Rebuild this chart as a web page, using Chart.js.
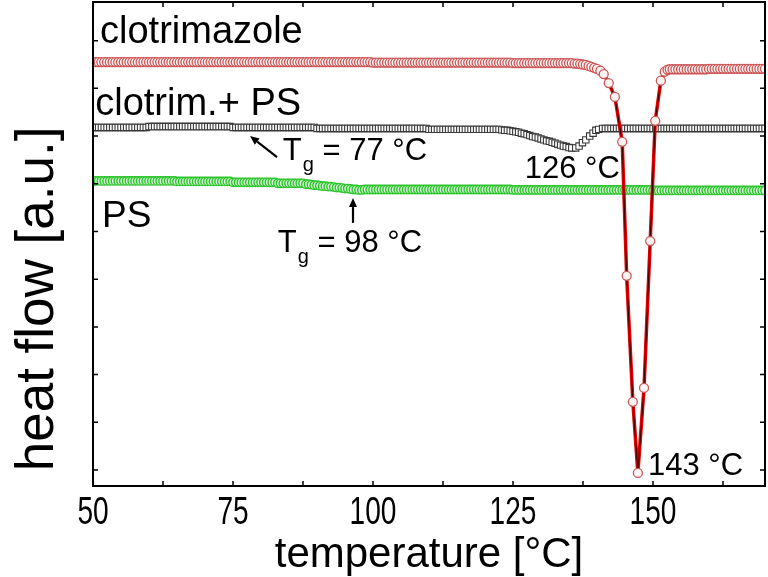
<!DOCTYPE html>
<html>
<head>
<meta charset="utf-8">
<script src="https://cdn.jsdelivr.net/npm/chart.js@4.4.0/dist/chart.umd.min.js"></script>
<style>
html,body{margin:0;padding:0;background:#fff;overflow:hidden}
#wrap{width:768px;height:577px}
</style>
</head>
<body>
<div id="wrap"><canvas id="dsc"></canvas></div>
<script>
// ── DSC curves: clotrimazole, clotrim.+PS, PS ──
// heat flow in a.u. (offset curves), temperature in °C

// shared temperature grid (PS curve)
const tempGrid=[
  50,50.5,51,51.5,52,52.5,53,53.5,54,54.5,55,55.5,56,56.5,57,57.5,58,58.5,59,59.5,
  60,60.5,61,61.5,62,62.5,63,63.5,64,64.5,65,65.5,66,66.5,67,67.5,68,68.5,69,69.5,
  70,70.5,71,71.5,72,72.5,73,73.5,74,74.5,75,75.5,76,76.5,77,77.5,78,78.5,79,79.5,
  80,80.5,81,81.5,82,82.5,83,83.5,84,84.5,85,85.5,86,86.5,87,87.5,88,88.5,89,89.5,
  90,90.5,91,91.5,92,92.5,93,93.5,94,94.5,95,95.5,96,96.5,97,97.5,98,98.5,99,99.5,
  100,100.5,101,101.5,102,102.5,103,103.5,104,104.5,105,105.5,106,106.5,107,107.5,108,108.5,109,109.5,
  110,110.5,111,111.5,112,112.5,113,113.5,114,114.5,115,115.5,116,116.5,117,117.5,118,118.5,119,119.5,
  120,120.5,121,121.5,122,122.5,123,123.5,124,124.5,125,125.5,126,126.5,127,127.5,128,128.5,129,129.5,
  130,130.5,131,131.5,132,132.5,133,133.5,134,134.5,135,135.5,136,136.5,137,137.5,138,138.5,139,139.5,
  140,140.5,141,141.5,142,142.5,143,143.5,144,144.5,145,145.5,146,146.5,147,147.5,148,148.5,149,149.5,
  150,150.5,151,151.5,152,152.5,153,153.5,154,154.5,155,155.5,156,156.5,157,157.5,158,158.5,159,159.5,
  160,160.5,161,161.5,162,162.5,163,163.5,164,164.5,165,165.5,166,166.5,167,167.5,168,168.5,169,169.5,
  170
];
const psHF=[
  6.06,6.06,6.06,6.06,6.06,6.06,6.06,6.06,6.06,6.06,6.06,6.06,6.06,6.06,6.06,6.06,6.06,6.06,6.06,6.06,
  6.06,6.06,6.06,6.06,6.06,6.06,6.06,6.06,6.06,6.06,6.05,6.05,6.05,6.05,6.05,6.05,6.05,6.05,6.05,6.05,
  6.05,6.05,6.05,6.05,6.05,6.05,6.05,6.05,6.05,6.05,6.03,6.03,6.03,6.03,6.03,6.03,6.03,6.03,6.03,6.03,
  6.03,6.03,6.03,6.03,6.03,6.03,6.01,6.01,6.01,6.01,6.01,6.01,6.01,6.01,6.01,6.01,5.99,5.99,5.98,5.97,
  5.97,5.96,5.95,5.95,5.94,5.94,5.93,5.92,5.92,5.91,5.90,5.90,5.89,5.88,5.88,5.87,5.87,5.88,5.88,5.88,
  5.88,5.88,5.88,5.88,5.88,5.88,5.88,5.88,5.88,5.88,5.88,5.88,5.88,5.88,5.88,5.88,5.88,5.88,5.88,5.88,
  5.88,5.88,5.88,5.88,5.88,5.88,5.88,5.88,5.88,5.88,5.88,5.88,5.88,5.88,5.88,5.88,5.88,5.88,5.88,5.88,
  5.88,5.88,5.88,5.88,5.88,5.88,5.88,5.88,5.88,5.88,5.87,5.87,5.87,5.87,5.87,5.87,5.87,5.87,5.87,5.87,
  5.87,5.87,5.87,5.87,5.87,5.87,5.87,5.87,5.87,5.87,5.87,5.87,5.87,5.87,5.87,5.87,5.87,5.87,5.87,5.87,
  5.87,5.87,5.87,5.87,5.87,5.87,5.87,5.87,5.87,5.87,5.87,5.87,5.87,5.87,5.87,5.87,5.87,5.87,5.87,5.87,
  5.86,5.86,5.86,5.86,5.86,5.86,5.86,5.86,5.86,5.86,5.86,5.86,5.86,5.86,5.86,5.86,5.86,5.86,5.86,5.86,
  5.86,5.86,5.86,5.86,5.86,5.86,5.86,5.86,5.86,5.86,5.86,5.86,5.86,5.86,5.86,5.86,5.86,5.86,5.86,5.86,
  5.86
];

// clotrimazole: dense baseline, sparse points through the melting dip
const clotT=[
  50,50.5,51,51.5,52,52.5,53,53.5,54,54.5,55,55.5,56,56.5,57,57.5,58,58.5,59,59.5,
  60,60.5,61,61.5,62,62.5,63,63.5,64,64.5,65,65.5,66,66.5,67,67.5,68,68.5,69,69.5,
  70,70.5,71,71.5,72,72.5,73,73.5,74,74.5,75,75.5,76,76.5,77,77.5,78,78.5,79,79.5,
  80,80.5,81,81.5,82,82.5,83,83.5,84,84.5,85,85.5,86,86.5,87,87.5,88,88.5,89,89.5,
  90,90.5,91,91.5,92,92.5,93,93.5,94,94.5,95,95.5,96,96.5,97,97.5,98,98.5,99,99.5,
  100,100.5,101,101.5,102,102.5,103,103.5,104,104.5,105,105.5,106,106.5,107,107.5,108,108.5,109,109.5,
  110,110.5,111,111.5,112,112.5,113,113.5,114,114.5,115,115.5,116,116.5,117,117.5,118,118.5,119,119.5,
  120,120.5,121,121.5,122,122.5,123,123.5,124,124.5,125,125.5,126,126.5,127,127.5,128,128.5,129,129.5,
  130,130.5,131,131.5,132,132.5,133,133.5,134,134.5,135,135.5,136,136.5,137,137.5,
  138,138.5,139,139.5,140,140.6,141.2,142.1,143.2,144.5,145.3,146.4,147.3,148.4,149.5,150.4,151.4,152.1,
  152.6,153,153.5,154,154.5,155,155.5,156,156.5,157,157.5,158,158.5,159,159.5,
  160,160.5,161,161.5,162,162.5,163,163.5,164,164.5,165,165.5,166,166.5,167,167.5,168,168.5,169,169.5,170
];
const clotHF=[
  8.55,8.55,8.55,8.55,8.55,8.55,8.55,8.55,8.55,8.55,8.55,8.55,8.55,8.55,8.55,8.55,8.55,8.55,8.55,8.55,
  8.55,8.55,8.55,8.55,8.55,8.55,8.55,8.55,8.55,8.55,8.55,8.55,8.55,8.55,8.55,8.55,8.55,8.55,8.55,8.55,
  8.55,8.55,8.55,8.55,8.55,8.55,8.55,8.55,8.55,8.55,8.55,8.55,8.55,8.55,8.55,8.55,8.55,8.55,8.55,8.55,
  8.55,8.55,8.55,8.55,8.55,8.55,8.55,8.55,8.55,8.55,8.55,8.55,8.55,8.55,8.55,8.55,8.55,8.55,8.55,8.55,
  8.55,8.55,8.55,8.55,8.55,8.55,8.55,8.55,8.55,8.55,8.55,8.55,8.55,8.55,8.55,8.55,8.55,8.55,8.55,8.55,
  8.54,8.54,8.54,8.54,8.54,8.54,8.54,8.54,8.54,8.54,8.54,8.54,8.54,8.54,8.54,8.54,8.54,8.54,8.54,8.54,
  8.54,8.54,8.54,8.54,8.54,8.54,8.54,8.54,8.54,8.54,8.54,8.54,8.54,8.54,8.54,8.54,8.54,8.54,8.54,8.54,
  8.54,8.54,8.54,8.54,8.54,8.54,8.54,8.54,8.54,8.54,8.53,8.53,8.53,8.53,8.53,8.53,8.53,8.53,8.53,8.53,
  8.53,8.53,8.53,8.53,8.53,8.53,8.53,8.53,8.53,8.53,8.53,8.53,8.52,8.52,8.51,8.50,
  8.49,8.47,8.45,8.43,8.41,8.37,8.30,8.11,7.82,6.88,4.07,1.43,-0.06,1.72,4.80,7.32,8.16,8.35,
  8.39,8.40,8.40,8.40,8.40,8.40,8.40,8.40,8.40,8.40,8.40,8.40,8.40,8.40,8.40,
  8.41,8.41,8.41,8.41,8.41,8.41,8.41,8.41,8.41,8.41,8.41,8.41,8.41,8.41,8.41,8.41,8.41,8.41,8.41,8.41,8.41
];

// clotrimazole + PS
const mixT=[
  50,50.5,51,51.5,52,52.5,53,53.5,54,54.5,55,55.5,56,56.5,57,57.5,58,58.5,59,59.5,
  60,60.5,61,61.5,62,62.5,63,63.5,64,64.5,65,65.5,66,66.5,67,67.5,68,68.5,69,69.5,
  70,70.5,71,71.5,72,72.5,73,73.5,74,74.5,75,75.5,76,76.5,77,77.5,78,78.5,79,79.5,
  80,80.5,81,81.5,82,82.5,83,83.5,84,84.5,85,85.5,86,86.5,87,87.5,88,88.5,89,89.5,
  90,90.5,91,91.5,92,92.5,93,93.5,94,94.5,95,95.5,96,96.5,97,97.5,98,98.5,99,99.5,
  100,100.5,101,101.5,102,102.5,103,103.5,104,104.5,105,105.5,106,106.5,107,107.5,108,108.5,109,109.5,
  110,110.5,111,111.5,112,112.5,113,113.5,114,114.5,115,115.5,116,116.5,117,117.5,118,118.5,119,119.5,
  120,120.5,121,121.5,122,122.5,
  123,123.5,124,124.5,125,125.5,126,126.5,127,127.5,128,128.5,129,129.5,130,130.5,131,131.5,132,132.5,
  133,133.5,134,134.5,135,135.5,
  136.2,136.8,137.4,138,138.7,139.3,139.8,140.3,
  141,141.5,142,142.5,143,143.5,144,144.5,145,145.5,146,146.5,147,147.5,148,148.5,149,149.5,
  150,150.5,151,151.5,152,152.5,153,153.5,154,154.5,155,155.5,156,156.5,157,157.5,158,158.5,159,159.5,
  160,160.5,161,161.5,162,162.5,163,163.5,164,164.5,165,165.5,166,166.5,167,167.5,168,168.5,169,169.5,170
];
const mixHF=[
  7.18,7.18,7.18,7.18,7.18,7.18,7.18,7.18,7.18,7.18,7.18,7.18,7.18,7.18,7.18,7.18,7.18,7.18,7.18,7.18,
  7.20,7.20,7.20,7.20,7.20,7.20,7.20,7.20,7.20,7.20,7.20,7.20,7.20,7.20,7.20,7.20,7.20,7.20,7.20,7.20,
  7.20,7.20,7.20,7.20,7.20,7.20,7.20,7.20,7.20,7.20,7.18,7.18,7.18,7.18,7.18,7.18,7.18,7.18,7.18,7.18,
  7.18,7.18,7.18,7.18,7.18,7.18,7.18,7.18,7.18,7.18,7.18,7.18,7.18,7.18,7.18,7.18,7.18,7.18,7.18,7.18,
  7.16,7.16,7.16,7.16,7.16,7.16,7.16,7.16,7.16,7.16,7.16,7.16,7.16,7.16,7.16,7.16,7.16,7.16,7.16,7.16,
  7.16,7.16,7.16,7.16,7.16,7.16,7.16,7.16,7.16,7.16,7.16,7.16,7.16,7.16,7.16,7.16,7.16,7.16,7.16,7.16,
  7.14,7.14,7.14,7.14,7.14,7.14,7.14,7.14,7.14,7.14,7.14,7.14,7.14,7.14,7.14,7.14,7.14,7.14,7.14,7.14,
  7.14,7.14,7.14,7.14,7.14,7.14,
  7.13,7.12,7.12,7.11,7.10,7.09,7.08,7.06,7.05,7.03,7.01,6.99,6.98,6.96,6.94,6.92,6.90,6.89,6.87,6.85,
  6.83,6.81,6.79,6.78,6.76,6.75,
  6.75,6.79,6.86,6.92,7.00,7.06,7.12,7.14,
  7.16,7.16,7.16,7.16,7.16,7.16,7.16,7.16,7.16,7.16,7.16,7.16,7.16,7.16,7.16,7.16,7.16,7.16,
  7.16,7.16,7.16,7.16,7.16,7.16,7.16,7.16,7.16,7.16,7.16,7.16,7.16,7.16,7.16,7.16,7.16,7.16,7.16,7.16,
  7.16,7.16,7.16,7.16,7.16,7.16,7.16,7.16,7.16,7.16,7.16,7.16,7.16,7.16,7.16,7.16,7.16,7.16,7.16,7.16,7.16
];

// axis
const xMin=50, xMax=170, xStep=12.5;
const xLabelVals=[50,75,100,125,150];
const yMin=-0.335, yMax=9.81;
const yTickVals=[0,1,2,3,4,5,6,7,8,9];

const FONT='"Liberation Sans", Arial, Helvetica, sans-serif';

const zip=(t,v)=>t.map((x,i)=>({x,y:v[i]}));

// ── Frame, inward ticks, condensed x tick labels ──
const frameTicks={
  id:'frameTicks',
  afterDatasetsDraw(chart){
    const {ctx,chartArea:a,scales:{x,y}}=chart;
    ctx.save();
    ctx.strokeStyle='#000';
    ctx.lineWidth=2;
    ctx.strokeRect(a.left,a.top,a.right-a.left,a.bottom-a.top);
    ctx.lineWidth=1.5;
    ctx.beginPath();
    x.ticks.forEach(t=>{
      if(t.value<=xMin||t.value>=xMax)return;
      const px=x.getPixelForValue(t.value);
      ctx.moveTo(px,a.bottom);ctx.lineTo(px,a.bottom-5);
      ctx.moveTo(px,a.top);ctx.lineTo(px,a.top+5);
    });
    y.ticks.forEach(t=>{
      const py=y.getPixelForValue(t.value);
      ctx.moveTo(a.left,py);ctx.lineTo(a.left+5,py);
      ctx.moveTo(a.right,py);ctx.lineTo(a.right-5,py);
    });
    ctx.stroke();
    // tick labels are condensed in the original
    ctx.fillStyle='#000';
    ctx.font='39px '+FONT;
    ctx.textAlign='center';
    ctx.textBaseline='alphabetic';
    xLabelVals.forEach(v=>{
      ctx.save();
      ctx.translate(x.getPixelForValue(v),a.bottom+38);
      ctx.scale(0.72,1);
      ctx.fillText(String(v),0,0);
      ctx.restore();
    });
    ctx.restore();
  }
};

// ── Curve names, peak temps, Tg notes ──
const labels=[
  {text:'clotrimazole',t:51.25,v:8.95,size:38},
  {text:'clotrim.+ PS',t:50.4,v:7.44,size:38},
  {text:'PS',t:51.6,v:5.09,size:37},
  {text:'126 °C',t:127.1,v:6.12,size:31},
  {text:'143 °C',t:149.1,v:-0.10,size:31}
];
const tgNotes=[
  {rest:' = 77 °C',t:83.9,v:6.50},
  {rest:' = 98 °C',t:83.0,v:4.57}
];
const arrows=[
  {from:[82.86,6.56],to:[78.05,7.00]},
  {from:[96.43,5.18],to:[96.43,5.70]}
];

const notes={
  id:'notes',
  afterDraw(chart){
    const {ctx,scales:{x,y}}=chart;
    ctx.save();
    ctx.fillStyle='#000';
    ctx.textBaseline='alphabetic';
    labels.forEach(l=>{
      ctx.font=l.size+'px '+FONT;
      ctx.fillText(l.text,x.getPixelForValue(l.t),y.getPixelForValue(l.v));
    });
    tgNotes.forEach(n=>{
      let px=x.getPixelForValue(n.t);
      const py=y.getPixelForValue(n.v);
      ctx.font='31px '+FONT;
      ctx.fillText('T',px,py);
      px+=ctx.measureText('T').width+1;
      ctx.font='20px '+FONT;
      ctx.fillText('g',px,py+11);
      px+=ctx.measureText('g').width;
      ctx.font='31px '+FONT;
      ctx.fillText(n.rest,px,py);
    });
    ctx.strokeStyle='#000';
    ctx.lineWidth=2.2;
    arrows.forEach(a=>{
      const x0=x.getPixelForValue(a.from[0]),y0=y.getPixelForValue(a.from[1]);
      const x1=x.getPixelForValue(a.to[0]),y1=y.getPixelForValue(a.to[1]);
      const ang=Math.atan2(y1-y0,x1-x0);
      const hl=9,hw=4;
      const bx=x1-hl*Math.cos(ang),by=y1-hl*Math.sin(ang);
      ctx.beginPath();ctx.moveTo(x0,y0);ctx.lineTo(bx,by);ctx.stroke();
      ctx.beginPath();
      ctx.moveTo(x1,y1);
      ctx.lineTo(bx+hw*Math.sin(ang),by-hw*Math.cos(ang));
      ctx.lineTo(bx-hw*Math.sin(ang),by+hw*Math.cos(ang));
      ctx.closePath();ctx.fill();
    });
    ctx.restore();
  }
};

const clotData=zip(clotT,clotHF);

new Chart(document.getElementById('dsc'),{
  type:'scatter',
  data:{datasets:[
    // drawn last = on top
    {label:'clotrimazole',data:clotData,showLine:false,pointStyle:'circle',pointRadius:4.5,
      pointBorderColor:'#cc5555',pointBackgroundColor:'#fff4f4',pointBorderWidth:1.3},
    {label:'clotrim core',data:clotData,showLine:true,pointRadius:0,borderColor:'#3a0000',borderWidth:1,tension:0},
    {label:'clotrim line',data:clotData,showLine:true,pointRadius:0,borderColor:'#e00000',borderWidth:3.5,tension:0},
    {label:'clotrim.+ PS',data:zip(mixT,mixHF),showLine:true,borderColor:'#444',borderWidth:1,
      pointStyle:'rect',pointRadius:4.5,pointBorderColor:'#383838',pointBackgroundColor:'#ffffff',pointBorderWidth:1.1},
    {label:'PS',data:zip(tempGrid,psHF),showLine:true,borderColor:'#22b022',borderWidth:1,
      pointStyle:'circle',pointRadius:4.2,pointBorderColor:'#2ec42e',pointBackgroundColor:'#d6f7d6',pointBorderWidth:1.4}
  ]},
  options:{
    responsive:true,maintainAspectRatio:false,animation:false,devicePixelRatio:1,
    layout:{autoPadding:false,padding:{left:0,right:3,top:2,bottom:0}},
    plugins:{legend:{display:false},tooltip:{enabled:false}},
    scales:{
      x:{type:'linear',min:xMin,max:xMax,
        border:{display:false},
        grid:{display:false,drawTicks:false},
        ticks:{display:false,stepSize:xStep},
        title:{display:true,text:'temperature [°C]',color:'#000',
          font:{family:FONT,size:42,lineHeight:1},padding:{top:48,bottom:1}}
      },
      y:{type:'linear',min:yMin,max:yMax,
        border:{display:false},
        grid:{display:false,drawTicks:false},
        afterBuildTicks:s=>{s.ticks=yTickVals.map(v=>({value:v}))},
        ticks:{display:false},
        title:{display:true,text:' heat flow [a.u.]',align:'start',color:'#000',
          font:{family:FONT,size:53,lineHeight:1},padding:{top:12,bottom:28}}
      }
    }
  },
  plugins:[frameTicks,notes]
});
</script>
</body>
</html>
